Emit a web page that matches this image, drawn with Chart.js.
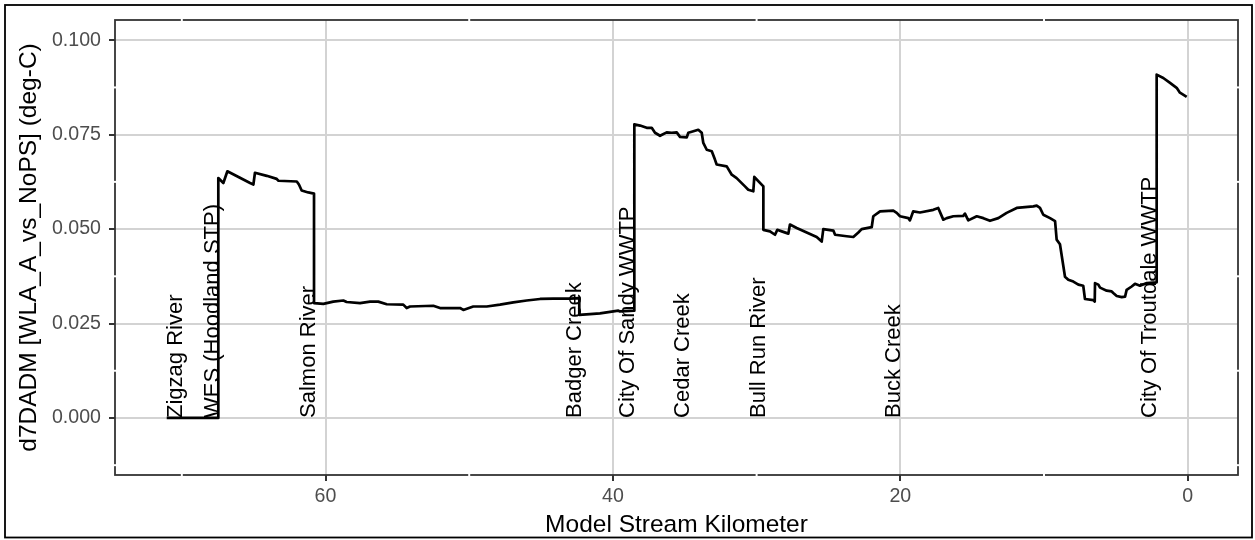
<!DOCTYPE html>
<html>
<head>
<meta charset="utf-8">
<title>d7DADM WLA_A vs NoPS</title>
<script src="https://cdn.jsdelivr.net/npm/chart.js@4.4.1/dist/chart.umd.min.js"></script>
<style>
  html, body { margin: 0; padding: 0; background: #ffffff; }
  canvas { display: block; }
</style>
</head>
<body>
<canvas id="chart" width="1255" height="540"></canvas>
<script>
// Model stream kilometer (upstream on the left) and the d7DADM difference (deg-C)
const streamKm = [
  71.05, 67.46, 67.46, 67.11, 66.83, 65.25, 65.02, 64.91, 64.09, 63.40,
  63.29, 62.00, 61.85, 61.66, 61.20, 60.80, 60.80, 60.15, 59.46, 58.76,
  58.53, 57.60, 56.90, 56.33, 55.74, 54.59, 54.35, 54.12, 52.50, 52.03,
  50.64, 50.41, 49.72, 48.78, 47.86, 46.93, 46.00, 45.07, 44.15, 42.99,
  42.34, 42.34, 41.60, 40.90, 39.62, 39.51, 38.51, 38.51, 38.11, 37.65,
  37.30, 37.07, 36.72, 36.26, 35.91, 35.56, 35.33, 34.86, 34.75, 34.40,
  34.06, 33.82, 33.71, 33.47, 33.12, 32.90, 32.78, 32.08, 31.73, 31.39,
  30.81, 30.58, 30.23, 30.16, 29.53, 29.53, 29.07, 28.72, 28.56, 28.25,
  27.79, 27.68, 27.21, 25.82, 25.47, 25.36, 24.66, 24.54, 23.73, 23.27,
  22.92, 22.69, 21.99, 21.88, 21.41, 20.49, 20.25, 20.02, 19.44, 19.33,
  19.10, 18.63, 17.70, 17.36, 17.01, 16.77, 16.31, 15.62, 15.50, 15.27,
  14.68, 14.22, 13.76, 13.18, 12.60, 11.90, 11.32, 10.74, 10.51, 10.28,
  10.05, 9.58, 9.23, 9.12, 8.89, 8.54, 8.31, 7.96, 7.61, 7.27,
  7.15, 6.57, 6.47, 6.45, 6.22, 6.10, 5.64, 5.29, 5.18, 4.94,
  4.59, 4.36, 4.25, 3.90, 3.67, 3.32, 2.85, 2.16, 2.16, 1.70,
  1.23, 0.77, 0.54, 0.07
];
const d7dadm = [
  0, 0, 0.0635, 0.0622, 0.0653, 0.0622, 0.0618, 0.0649, 0.0641, 0.0633,
  0.0628, 0.0626, 0.0618, 0.0602, 0.0597, 0.0594, 0.0304, 0.0302, 0.0308, 0.0311,
  0.0307, 0.0304, 0.0308, 0.0308, 0.0301, 0.0300, 0.0291, 0.0295, 0.0297, 0.0291,
  0.0291, 0.0286, 0.0295, 0.0295, 0.0300, 0.0306, 0.0311, 0.0315, 0.0316, 0.0316,
  0.0317, 0.0273, 0.0275, 0.0277, 0.0284, 0.0282, 0.0284, 0.0777, 0.0774, 0.0768,
  0.0768, 0.0755, 0.0747, 0.0756, 0.0755, 0.0756, 0.0744, 0.0743, 0.0755, 0.0759,
  0.0763, 0.0755, 0.0728, 0.0710, 0.0706, 0.0684, 0.0671, 0.0666, 0.0644, 0.0635,
  0.0613, 0.0604, 0.0600, 0.0638, 0.0613, 0.0498, 0.0494, 0.0485, 0.0498, 0.0494,
  0.0488, 0.0512, 0.0503, 0.0479, 0.0467, 0.0500, 0.0496, 0.0485, 0.0481, 0.0479,
  0.0491, 0.0500, 0.0505, 0.0534, 0.0547, 0.0549, 0.0543, 0.0534, 0.0529, 0.0523,
  0.0547, 0.0544, 0.0551, 0.0556, 0.0525, 0.0529, 0.0534, 0.0535, 0.0541, 0.0523,
  0.0534, 0.0529, 0.0522, 0.0529, 0.0543, 0.0556, 0.0558, 0.0560, 0.0562, 0.0556,
  0.0538, 0.0529, 0.0521, 0.0472, 0.0460, 0.0374, 0.0366, 0.0361, 0.0353, 0.0350,
  0.0315, 0.0312, 0.0308, 0.0357, 0.0353, 0.0345, 0.0337, 0.0335, 0.0331, 0.0323,
  0.0320, 0.0321, 0.0339, 0.0348, 0.0355, 0.0350, 0.0357, 0.0359, 0.0909, 0.0900,
  0.0887, 0.0874, 0.0861, 0.0850
];

// Tributaries and point sources, labelled at their stream kilometer
const siteNames = [
  'Zigzag River', 'WES (Hoodland STP)', 'Salmon River', 'Badger Creek',
  'City Of Sandy WWTP', 'Cedar Creek', 'Bull Run River', 'Buck Creek',
  'City Of Troutdale WWTP'
];
const siteKm = [70.0, 67.4, 60.7, 42.25, 38.53, 34.7, 29.4, 20.0, 2.22];

// Axis ticks
const xTickValues = [0, 20, 40, 60];
const yTickValues = [0, 0.025, 0.05, 0.075, 0.1];
const xMinorValues = [10, 30, 50, 70];
const yMinorValues = [-0.0125, 0.0125, 0.0375, 0.0625, 0.0875];

const FONT = "'Liberation Sans', Arial, Helvetica, sans-serif";
Chart.defaults.font.family = FONT;

const points = streamKm.map((km, i) => ({ x: km, y: d7dadm[i] }));

function segment(ctx, x1, y1, x2, y2) {
  ctx.beginPath();
  ctx.moveTo(x1, y1);
  ctx.lineTo(x2, y2);
  ctx.stroke();
}

const panelDecor = {
  id: 'panelDecor',
  beforeDatasetsDraw(chart) {
    const { ctx, chartArea: a, scales: { x, y } } = chart;
    ctx.save();
    // panel frame
    ctx.strokeStyle = '#333333';
    ctx.lineWidth = 1.8;
    ctx.strokeRect(a.left, a.top, a.right - a.left, a.bottom - a.top);
    // white minor grid lines break the frame where they meet it
    ctx.strokeStyle = '#ffffff';
    ctx.lineWidth = 2;
    xMinorValues.forEach(v => {
      const px = x.getPixelForValue(v);
      if (px < a.left || px > a.right) return;
      segment(ctx, px, a.top - 2, px, a.top + 2);
      segment(ctx, px, a.bottom - 2, px, a.bottom + 2);
    });
    yMinorValues.forEach(v => {
      const py = y.getPixelForValue(v);
      if (py < a.top || py > a.bottom) return;
      segment(ctx, a.left - 2, py, a.left + 2, py);
      segment(ctx, a.right - 2, py, a.right + 2, py);
    });
    ctx.restore();
  },
  afterDatasetsDraw(chart) {
    const { ctx, scales: { x, y } } = chart;
    ctx.save();
    ctx.font = '22px ' + FONT;
    ctx.fillStyle = '#000000';
    ctx.textAlign = 'left';
    ctx.textBaseline = 'alphabetic';
    const py = y.getPixelForValue(0);
    siteNames.forEach((name, i) => {
      const px = x.getPixelForValue(siteKm[i]);
      ctx.save();
      ctx.translate(px, py);
      ctx.rotate(-Math.PI / 2);
      ctx.fillText(name, 0, 0);
      ctx.restore();
    });
    ctx.restore();
  },
  afterDraw(chart) {
    const { ctx } = chart;
    ctx.save();
    ctx.strokeStyle = '#000000';
    ctx.lineWidth = 1.8;
    ctx.strokeRect(5, 5, 1247, 532.5);
    ctx.restore();
  }
};

new Chart(document.getElementById('chart'), {
  type: 'line',
  data: {
    datasets: [{
      data: points,
      borderColor: '#000000',
      borderWidth: 2.7,
      borderJoinStyle: 'round',
      pointRadius: 0,
      pointHoverRadius: 0,
      tension: 0,
      fill: false
    }]
  },
  options: {
    responsive: false,
    animation: false,
    devicePixelRatio: 1,
    layout: { padding: { left: 0, top: 20, right: 17, bottom: 0 } },
    plugins: { legend: { display: false }, tooltip: { enabled: false } },
    scales: {
      x: {
        type: 'linear',
        reverse: true,
        min: -3.5,
        max: 74.65,
        afterBuildTicks: axis => { axis.ticks = xTickValues.map(v => ({ value: v })); },
        afterFit: axis => { axis.height = 65; },
        grid: {
          color: '#D3D3D3',
          lineWidth: 2,
          tickColor: '#333333',
          tickWidth: 2,
          tickLength: 6
        },
        border: { display: false },
        ticks: {
          color: '#4D4D4D',
          font: { size: 19.6 },
          padding: 4,
          maxRotation: 0,
          callback: v => String(v)
        },
        title: {
          display: true,
          text: 'Model Stream Kilometer',
          color: '#000000',
          font: { size: 24.5 },
          padding: { top: 0, bottom: 0 }
        }
      },
      y: {
        type: 'linear',
        min: -0.0151,
        max: 0.10535,
        afterBuildTicks: axis => { axis.ticks = yTickValues.map(v => ({ value: v })); },
        afterFit: axis => { axis.width = 115; },
        grid: {
          color: '#D3D3D3',
          lineWidth: 2,
          tickColor: '#333333',
          tickWidth: 2,
          tickLength: 6
        },
        border: { display: false },
        ticks: {
          color: '#4D4D4D',
          font: { size: 19.6 },
          padding: 8,
          callback: v => Number(v).toFixed(3)
        },
        title: {
          display: true,
          text: 'd7DADM [WLA_A_vs_NoPS] (deg-C)',
          color: '#000000',
          font: { size: 24.5 },
          padding: { top: 15, bottom: 0 }
        }
      }
    }
  },
  plugins: [panelDecor]
});
</script>
</body>
</html>
